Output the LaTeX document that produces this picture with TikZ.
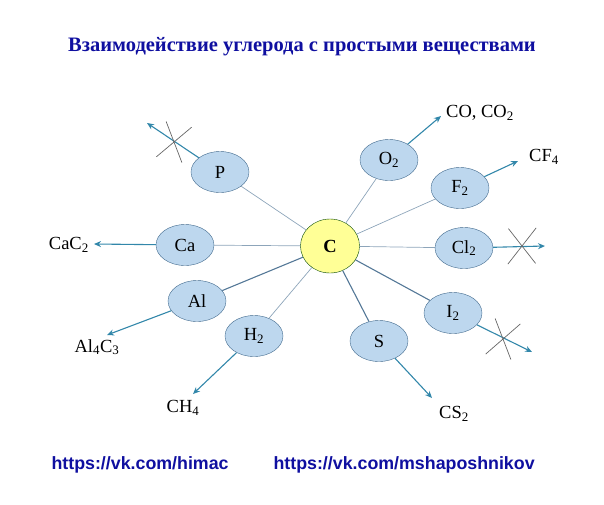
\documentclass[tikz,border=0pt]{standalone}
\usepackage{fontspec}
\setmainfont{Liberation Serif}
\setsansfont{Liberation Sans}
\usepackage{tikz}
\usetikzlibrary{calc}
\usetikzlibrary{shapes}
\usetikzlibrary{arrows.meta}
\definecolor{hellblau}{RGB}{189,215,238}
\definecolor{randblau}{RGB}{65,105,140}
\definecolor{hellgelb}{RGB}{255,255,150}
\definecolor{pfeilblau}{RGB}{50,135,170}
\definecolor{titelblau}{RGB}{15,15,160}
\newcommand{\kreuz}[3]{\draw[kreuz] ($(#1)+(#2:22)$) -- ($(#1)-(#2:22)$)
  ($(#1)+(#3:23)$) -- ($(#1)-(#3:23)$);}

\begin{document}
\begin{tikzpicture}[x=1pt, y=-1pt,
    stoff/.style={ellipse, draw=randblau, fill=hellblau, minimum width=58,
      minimum height=41, inner sep=0pt, font=\fontsize{18.5}{20}\selectfont},
    produkt/.style={inner sep=0pt, font=\fontsize{18.5}{20}\selectfont},
    duenn/.style={draw=randblau!60, line width=0.7pt},
    dick/.style={draw=randblau!90, line width=1.1pt},
    pfeil/.style={draw=pfeilblau, line width=1.1pt, -{Stealth[length=7pt,width=6pt]}},
    kreuz/.style={draw=black!60, line width=0.7pt}]
      \useasboundingbox (0,0) rectangle (604,504);

      \draw (302,47) node[text=titelblau, font=\fontsize{20.5}{22}\selectfont\bfseries]
        (titel) {Взаимодействие углерода с простыми веществами};

      % Kohlenstoff in der Mitte
      \draw (330,246) node[ellipse, draw=black!55!green!60!black, fill=hellgelb,
        minimum width=59, minimum height=54, inner sep=0pt,
        font=\fontsize{18.5}{20}\selectfont\bfseries] (C) {C};

      \draw (220,172) node[stoff] (P) {P};
      \draw (389,160) node[stoff] (O2) {O\textsubscript{2}};
      \draw (460,188) node[stoff] (F2) {F\textsubscript{2}};
      \draw (185,245) node[stoff] (Ca) {Ca};
      \draw (464,248) node[stoff] (Cl2) {Cl\textsubscript{2}};
      \draw (197,301) node[stoff] (Al) {Al};
      \draw (254,336) node[stoff] (H2) {H\textsubscript{2}};
      \draw (379,341) node[stoff] (S) {S};
      \draw (453,313) node[stoff] (I2) {I\textsubscript{2}};

      \draw[duenn] (C) -- (P);
      \draw[duenn] (C) -- (O2);
      \draw[duenn] (C) -- (F2);
      \draw[duenn] (C) -- (Ca);
      \draw[duenn] (C) -- (Cl2);
      \draw[duenn] (C) -- (H2);
      \draw[dick] (C) -- (Al);
      \draw[dick] (C) -- (S);
      \draw[dick] (C) -- (I2);

      % Produkte
      \draw (446,113) node[produkt, anchor=west] (CO) {CO, CO\textsubscript{2}};
      \draw (529,157) node[produkt, anchor=west] (CF4) {CF\textsubscript{4}};
      \draw (89,245) node[produkt, anchor=east] (CaC2) {CaC\textsubscript{2}};
      \draw (97,347) node[produkt] (Al4C3) {Al\textsubscript{4}C\textsubscript{3}};
      \draw (183,408) node[produkt] (CH4) {CH\textsubscript{4}};
      \draw (454,414) node[produkt] (CS2) {CS\textsubscript{2}};

      \coordinate (eP) at (147,123);
      \coordinate (eO2) at (441,116);
      \coordinate (eF2) at (518,161);
      \coordinate (eCa) at (94,244);
      \coordinate (eCl2) at (545,246);
      \coordinate (eAl) at (107,335);
      \coordinate (eH2) at (193,394);
      \coordinate (eS) at (432,398);
      \coordinate (eI2) at (532,352);

      \draw[pfeil] (P) -- (eP);
      \draw[pfeil] (O2) -- (eO2);
      \draw[pfeil] (F2) -- (eF2);
      \draw[pfeil] (Ca) -- (eCa);
      \draw[pfeil] (Cl2) -- (eCl2);
      \draw[pfeil] (Al) -- (eAl);
      \draw[pfeil] (H2) -- (eH2);
      \draw[pfeil] (S) -- (eS);
      \draw[pfeil] (I2) -- (eI2);

      % keine Reaktion
      \coordinate (xP) at (174,142);
      \coordinate (xCl2) at (522,246);
      \coordinate (xI2) at (503,339);
      \kreuz{xP}{69}{-40}
      \kreuz{xCl2}{52}{128}
      \kreuz{xI2}{69}{-41}

      \draw (48,465) node[anchor=west, text=titelblau,
        font=\sffamily\bfseries\fontsize{17.8}{20}\selectfont] (link1) {https://vk.com/himac};
      \draw (270,465) node[anchor=west, text=titelblau,
        font=\sffamily\bfseries\fontsize{17.8}{20}\selectfont] (link2) {https://vk.com/mshaposhnikov};
    \end{tikzpicture}
\end{document}
